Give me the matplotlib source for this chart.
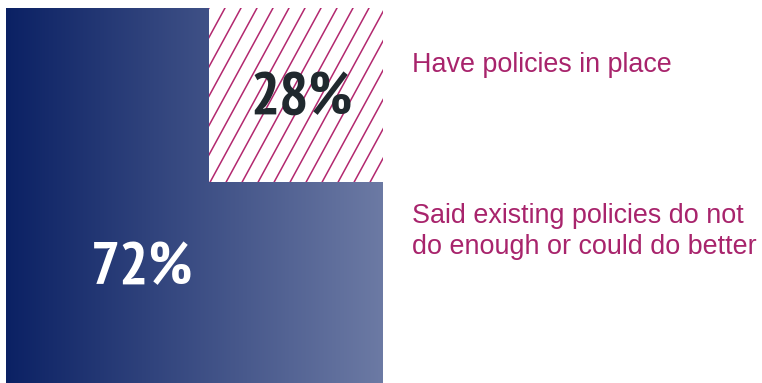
import numpy as np
import matplotlib
matplotlib.use("Agg")
import matplotlib.pyplot as plt
from matplotlib.colors import LinearSegmentedColormap
from matplotlib.patches import Rectangle

# shares of respondents
values = [72, 28]
value_labels = [f"{v}%" for v in values]
captions = [
    ["Have policies in place"],
    ["Said existing policies do not", "do enough or could do better"],
]

# layout in pixel units (figure is 762 x 383)
BLOCK = (6, 8, 383, 383)        # left, top, right, bottom
HATCH = (209, 8, 383, 182)      # hatched corner
NAVY_L, NAVY_R = "#0b2164", "#6c7aa4"
MAGENTA = "#a8246c"
HATCH_COLOR = "#b3286f"
DARK = "#20292e"

fig = plt.figure(figsize=(7.62, 3.83), dpi=100)
ax = fig.add_axes([0, 0, 1, 1])
ax.set_xlim(0, 762)
ax.set_ylim(383, 0)
ax.axis("off")

# horizontal navy gradient across the whole block
cmap = LinearSegmentedColormap.from_list("navy", [NAVY_L, NAVY_R])
grad = np.linspace(0, 1, 256).reshape(1, -1)
l, t, r, b = BLOCK
ax.imshow(grad, cmap=cmap, aspect="auto", extent=(l, r, b, t), interpolation="bilinear")

# hatched corner for the smaller share
hl, ht, hr, hb = HATCH
clip = Rectangle((hl, ht), hr - hl, hb - ht, facecolor="white", edgecolor="none", zorder=2)
ax.add_patch(clip)
slope = 0.545                   # dx per dy of the hatch lines
spacing = 16
h = hb - ht
for x0 in np.arange(hl - h * slope, hr + spacing, spacing):
    ln, = ax.plot([x0, x0 + h * slope], [hb, ht], color=HATCH_COLOR, lw=1.1, zorder=3)
    ln.set_clip_path(clip)

big = dict(family=["PT Sans Narrow", "DejaVu Sans"], fontweight="bold",
           fontsize=44, ha="center", va="baseline", zorder=4)
ax.text((l + hl) / 2 + 35, 284, value_labels[0], color="white", **big)
ax.text((hl + hr) / 2 + 6, 115, value_labels[1], color=DARK, **big)

cap = dict(family=["Liberation Sans", "DejaVu Sans"], fontsize=19.4,
           color=MAGENTA, ha="left", va="baseline")
for lines, y0 in zip(captions, [72, 223]):
    for i, line in enumerate(lines):
        ax.text(412, y0 + i * 31, line, **cap)

fig.savefig("out.png", dpi=100)
